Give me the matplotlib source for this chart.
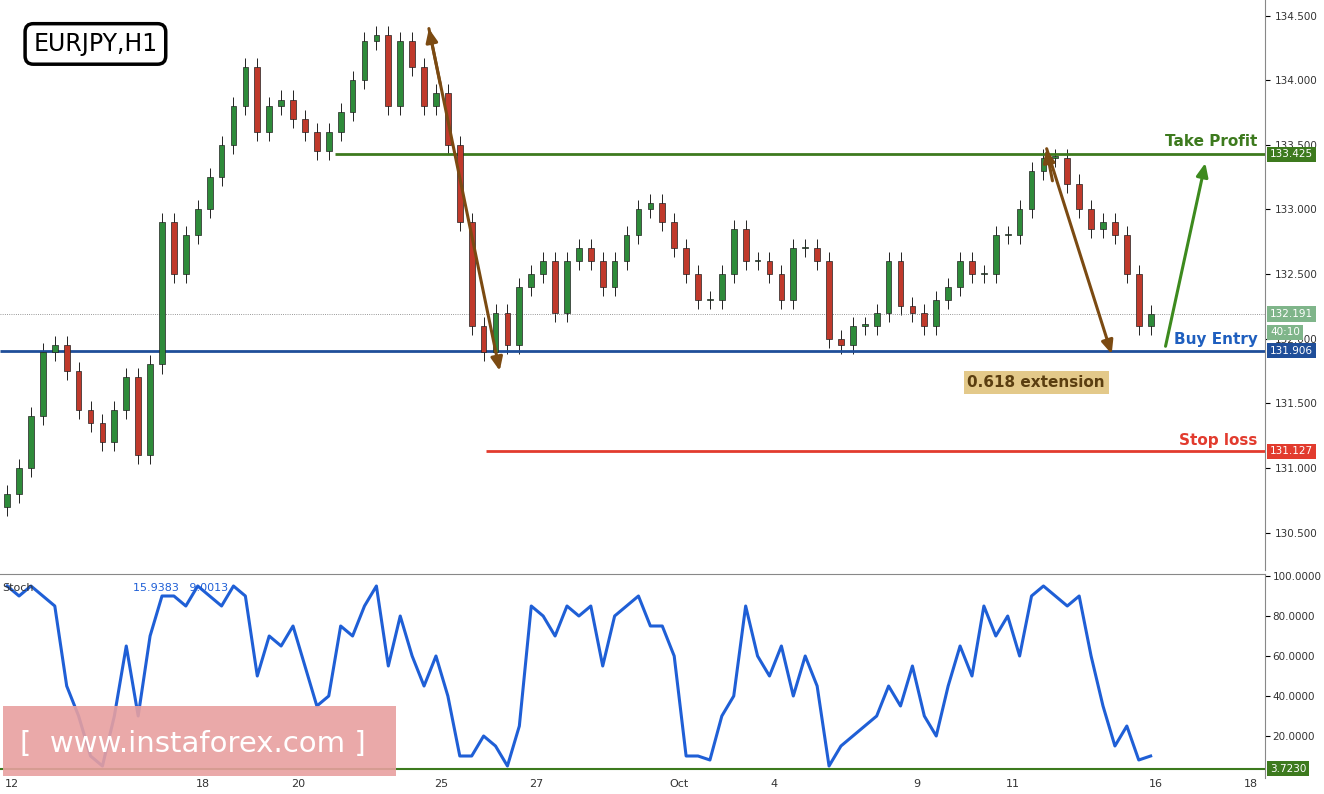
import numpy as np
import matplotlib.pyplot as plt
from matplotlib.patches import Rectangle

# 6-hour closes, 4 per trading day (Sep 12 .. Oct 16)
closes = [130.8, 131.0, 131.4, 131.9, 131.95, 131.75, 131.45, 131.35,
          131.2, 131.45, 131.7, 131.1, 131.8, 132.9, 132.5, 132.8,
          133.0, 133.25, 133.5, 133.8, 134.1, 133.6, 133.8, 133.85,
          133.7, 133.6, 133.45, 133.6, 133.75, 134.0, 134.3, 134.35,
          133.8, 134.3, 134.1, 133.8, 133.9, 133.5, 132.9, 132.1,
          131.9, 132.2, 131.95, 132.4, 132.5, 132.6, 132.2, 132.6,
          132.7, 132.6, 132.4, 132.6, 132.8, 133.0, 133.05, 132.9,
          132.7, 132.5, 132.3, 132.3, 132.5, 132.85, 132.6, 132.6,
          132.5, 132.3, 132.7, 132.7, 132.6, 132.0, 131.95, 132.1,
          132.1, 132.2, 132.6, 132.25, 132.2, 132.1, 132.3, 132.4,
          132.6, 132.5, 132.5, 132.8, 132.8, 133.0, 133.3, 133.4,
          133.4, 133.2, 133.0, 132.85, 132.9, 132.8, 132.5, 132.1,
          132.19]
first_open = 130.7
stoch = [95, 90, 95, 90, 85, 45, 30, 10, 5, 30, 65, 30, 70, 90, 90, 85,
         95, 90, 85, 95, 90, 50, 70, 65, 75, 55, 35, 40, 75, 70, 85, 95,
         55, 80, 60, 45, 60, 40, 10, 10, 20, 15, 5, 25, 85, 80, 70, 85,
         80, 85, 55, 80, 85, 90, 75, 75, 60, 10, 10, 8, 30, 40, 85, 60,
         50, 65, 40, 60, 45, 5, 15, 20, 25, 30, 45, 35, 55, 30, 20, 45,
         65, 50, 85, 70, 80, 60, 90, 95, 90, 85, 90, 60, 35, 15, 25, 8,
         10]
tick_days = [0, 4, 6, 9, 11, 14, 16, 19, 21, 24, 26]
tick_labels = ['12', '18', '20', '25', '27', 'Oct', '4', '9', '11', '16', '18']
price_ticks = [130.5, 131.0, 131.5, 132.0, 132.5, 133.0, 133.5, 134.0, 134.5]
stoch_ticks = [20, 40, 60, 80, 100]
take_profit, buy_entry, stop_loss, last_price, stoch_last = 133.425, 131.906, 131.127, 132.191, 3.7230

W, H = 1324, 794
fig = plt.figure(figsize=(W / 100, H / 100), dpi=100)
ax = fig.add_axes([0, (H - 570) / H, 1265 / W, 570 / H])
ax2 = fig.add_axes([0, 16 / H, 1265 / W, (778 - 574) / H], sharex=ax)

xs = np.arange(len(closes)) / 4 - 0.1
opens = [first_open] + closes[:-1]
for x, o, c in zip(xs, opens, closes):
    col = '#2e8b3a' if c >= o else '#c0392b'
    lo, hi = min(o, c), max(o, c)
    ax.vlines(x, lo - 0.07, hi + 0.07, color='#222222', lw=0.7, zorder=2)
    ax.add_patch(Rectangle((x - 0.06, lo), 0.12, max(hi - lo, 0.01),
                           facecolor=col, edgecolor='#222222', lw=0.5, zorder=3))

ax.set_xlim(-0.25, 26.3)
ax.set_ylim(130.21, 134.62)
ax.yaxis.tick_right()
ax.set_yticks(price_ticks)
ax.set_yticklabels([f'{t:.3f}' for t in price_ticks], fontsize=7.5, color='#333333')
ax.tick_params(axis='x', bottom=False, labelbottom=False)
for s in ['top', 'left', 'bottom']:
    ax.spines[s].set_visible(False)
ax.spines['right'].set_color('#888888')

ax.axhline(last_price, color='#777777', lw=0.6, ls=':')
ax.hlines(take_profit, 6.79, 26.3, color='#3d7a1e', lw=2)
ax.hlines(buy_entry, -0.25, 26.3, color='#1f4e99', lw=2)
ax.hlines(stop_loss, 9.94, 26.3, color='#e23b2e', lw=2)

arrow = dict(arrowstyle='-|>,head_width=0.35,head_length=0.8', lw=2.2)
brown = '#7b4a12'
ax.annotate('', xy=(10.25, 131.73), xytext=(8.74, 134.42), arrowprops=dict(color=brown, **arrow))
ax.annotate('', xy=(8.74, 134.42), xytext=(9.0, 133.95), arrowprops=dict(color=brown, **arrow))
ax.annotate('', xy=(23.1, 131.86), xytext=(21.7, 133.49), arrowprops=dict(color=brown, **arrow))
ax.annotate('', xy=(21.7, 133.49), xytext=(21.85, 133.2), arrowprops=dict(color=brown, **arrow))
ax.annotate('', xy=(25.06, 133.38), xytext=(24.2, 131.92), arrowprops=dict(color='#3d8a1e', **arrow))

ax.text(26.15, take_profit + 0.04, 'Take Profit', ha='right', va='bottom', color='#3d7a1e', fontsize=11, fontweight='bold')
ax.text(26.15, buy_entry + 0.03, 'Buy Entry', ha='right', va='bottom', color='#1f5fbf', fontsize=11, fontweight='bold')
ax.text(26.15, stop_loss + 0.03, 'Stop loss', ha='right', va='bottom', color='#e23b2e', fontsize=11, fontweight='bold')
ax.text(21.5, 131.66, '0.618 extension', ha='center', va='center', color='#5a3e10', fontsize=11,
        fontweight='bold', bbox=dict(boxstyle='square,pad=0.25', fc='#e3c98a', ec='none'))
ax.text(0.45, 134.28, 'EURJPY,H1', fontsize=17, va='center', ha='left',
        bbox=dict(boxstyle='round,pad=0.35', fc='white', ec='black', lw=2.5))

def tag(a, y, text, color):
    a.text(1.004, y, text, transform=a.get_yaxis_transform(), ha='left', va='center', fontsize=7.5,
           color='white', bbox=dict(boxstyle='square,pad=0.25', fc=color, ec='none'), clip_on=False)

tag(ax, take_profit, f'{take_profit:.3f}', '#3d7a1e')
tag(ax, buy_entry, f'{buy_entry:.3f}', '#1f4e99')
tag(ax, stop_loss, f'{stop_loss:.3f}', '#e23b2e')
tag(ax, last_price, f'{last_price:.3f}', '#7fb58a')
tag(ax, 132.05, '40:10', '#7fb58a')

# Stochastic panel
xs2 = np.arange(len(stoch)) / 4 - 0.1
ax2.plot(xs2, stoch, color='#1f5fd6', lw=2.2)
ax2.axhline(stoch_last, color='#3d7a1e', lw=1.5)
ax2.set_ylim(-1, 101)
ax2.yaxis.tick_right()
ax2.set_yticks(stoch_ticks)
ax2.set_yticklabels([f'{t:.4f}' for t in stoch_ticks], fontsize=7.5, color='#333333')
ax2.tick_params(axis='y', pad=2)
ax2.set_xticks(tick_days)
ax2.set_xticklabels(tick_labels, fontsize=8, color='#333333')
ax2.tick_params(axis='x', length=0, pad=1)
for s in ['left', 'bottom']:
    ax2.spines[s].set_visible(False)
ax2.spines['top'].set_color('#888888')
ax2.spines['right'].set_color('#888888')
tag(ax2, stoch_last, f'{stoch_last:.4f}', '#3d7a1e')
ax2.text(-0.2, 94, 'Stoch', fontsize=8, color='#333333', va='center')
ax2.text(2.55, 94, '15.9383   9.0013', fontsize=8, color='#1f5fd6', va='center')

fig.patches.append(Rectangle((3 / W, 18 / H), 393 / W, 70 / H, transform=fig.transFigure,
                             fc='#e8a0a0', ec='none', alpha=0.9))
fig.text(20 / W, 50 / H, '[  www.instaforex.com ]', color='white', fontsize=21, va='center')

fig.savefig('out.png', dpi=100, facecolor='white')
